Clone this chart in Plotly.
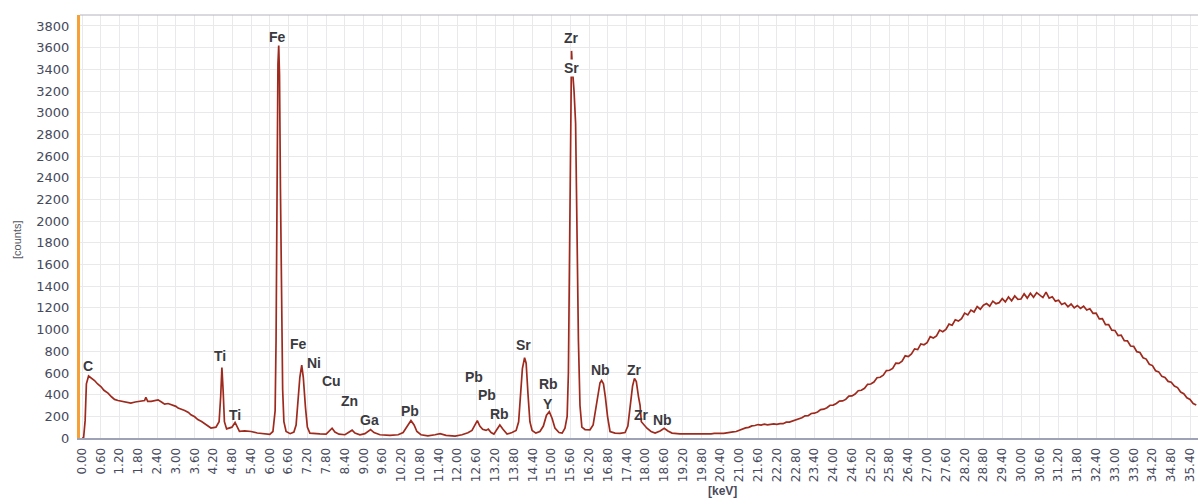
import numpy as np
import plotly.graph_objects as go

# ---- spectrum data (keV, counts) ----
low_kev = [0.00, 0.05, 0.10, 0.14, 0.21, 0.30, 0.40, 0.50, 0.61, 0.70, 0.83, 0.95, 1.04, 1.15, 1.25, 1.40,
           1.56, 1.70, 1.88, 2.00, 2.04, 2.10, 2.21, 2.35, 2.43, 2.55, 2.64, 2.75, 2.84, 3.00, 3.07, 3.18,
           3.28, 3.40, 3.48, 3.60, 3.70, 3.82, 3.92, 4.05, 4.12, 4.28, 4.38, 4.43, 4.47, 4.51, 4.55, 4.62,
           4.79, 4.89, 4.98, 5.03, 5.20, 5.40, 5.60, 5.84, 6.00, 6.10, 6.17, 6.20, 6.23, 6.26, 6.285, 6.31,
           6.34, 6.37, 6.41, 6.45, 6.52, 6.65, 6.77, 6.84, 6.90, 6.96, 7.02, 7.07, 7.14, 7.20, 7.28, 7.44,
           7.60, 7.80, 7.89, 7.99, 8.08, 8.21, 8.40, 8.53, 8.63, 8.72, 8.88, 9.04, 9.14, 9.22, 9.33, 9.52,
           9.84, 10.10, 10.26, 10.35, 10.45, 10.51, 10.61, 10.70, 10.83, 11.05, 11.28, 11.44, 11.63, 11.92,
           12.14, 12.33, 12.46, 12.56, 12.63, 12.71, 12.80, 12.91, 12.98, 13.07, 13.16, 13.26, 13.35, 13.45,
           13.58, 13.74, 13.87, 13.95, 14.01, 14.07, 14.14, 14.19, 14.25, 14.31, 14.38, 14.50, 14.63, 14.74,
           14.84, 14.93, 15.02, 15.11, 15.24, 15.34, 15.43, 15.50, 15.54, 15.58, 15.61, 15.64, 15.67, 15.72,
           15.77, 15.81, 15.86, 15.91, 15.97, 16.07, 16.23, 16.33, 16.41, 16.49, 16.55, 16.60, 16.66, 16.72,
           16.79, 16.87, 17.03, 17.19, 17.35, 17.44, 17.52, 17.59, 17.65, 17.71, 17.78, 17.83, 17.87, 17.96,
           18.05, 18.18, 18.31, 18.47, 18.60, 18.72, 18.85, 19.10, 19.42, 19.70]
low_counts = [0, 0, 160, 500, 572, 552, 530, 498, 472, 440, 414, 378, 356, 346, 340, 336,
              322, 332, 344, 346, 376, 338, 338, 346, 352, 330, 312, 318, 308, 292, 276, 268,
              254, 236, 214, 196, 170, 152, 132, 110, 92, 100, 150, 380, 650, 430, 150, 84,
              100, 143, 90, 62, 66, 60, 46, 36, 34, 60, 250, 900, 2400, 3450, 3620, 3350,
              2300, 1200, 450, 150, 60, 40, 55, 120, 330, 560, 672, 560, 280, 100, 45, 40,
              38, 36, 60, 90, 55, 35, 30, 50, 72, 45, 30, 40, 60, 78, 50, 30,
              25, 30, 50, 90, 140, 162, 120, 60, 30, 20, 30, 40, 25, 18,
              30, 48, 70, 130, 160, 110, 80, 70, 82, 50, 36, 80, 120, 80,
              36, 50, 70, 150, 400, 640, 740, 690, 400, 150, 70, 45, 60, 110,
              210, 242, 180, 92, 50, 45, 90, 200, 600, 1800, 3000, 3570, 3400, 3200,
              2900, 2000, 900, 300, 100, 78, 76, 120, 250, 420, 510, 532, 500, 380,
              200, 60, 45, 42, 50, 110, 300, 480, 550, 520, 380, 300, 150, 122,
              90, 60, 45, 65, 90, 65, 45, 38, 36, 37]

# Bremsstrahlung hump, one reading every 0.1 keV starting at 19.8 keV
hump_start_kev = 19.8
hump_step_kev = 0.1
hump_counts = [36, 39, 37, 38, 42, 40, 43, 42, 47, 49,
               57, 60, 72, 78, 93, 98, 112, 115, 124, 119,
               128, 122, 125, 131, 126, 133, 132, 146, 147, 156,
               172, 175, 186, 204, 205, 226, 229, 240, 262, 266,
               279, 302, 304, 318, 340, 342, 356, 386, 388, 405,
               436, 440, 458, 495, 498, 516, 556, 560, 579, 622,
               625, 642, 690, 688, 708, 758, 750, 776, 822, 815,
               868, 860, 880, 935, 922, 942, 995, 980, 1002, 1050,
               1040, 1090, 1078, 1100, 1152, 1135, 1180, 1162, 1212, 1188,
               1225, 1240, 1215, 1262, 1238, 1248, 1285, 1255, 1300, 1265,
               1310, 1278, 1282, 1330, 1290, 1335, 1298, 1340, 1318, 1295,
               1345, 1290, 1302, 1262, 1270, 1232, 1245, 1210, 1235, 1200,
               1222, 1195, 1215, 1180, 1192, 1150, 1152, 1098, 1100, 1045,
               1046, 995, 992, 945, 948, 898, 896, 848, 845, 796,
               788, 740, 728, 680, 668, 620, 610, 568, 558, 522,
               514, 480, 465, 424, 408, 370, 356, 318, 305]

# Peak labels (element, keV, counts)
peak_names = ["C", "Ti", "Ti", "Fe", "Fe", "Ni", "Cu", "Zn", "Ga", "Pb", "Pb", "Pb", "Rb", "Sr",
              "Rb", "Y", "Zr", "Sr", "Nb", "Zr", "Zr", "Nb"]
peak_kev = [0.19, 4.41, 4.89, 6.26, 6.92, 7.40, 7.96, 8.56, 9.17, 10.49, 12.52, 12.94, 13.35, 14.09,
            14.89, 14.89, 15.65, 15.65, 16.57, 17.64, 17.86, 18.56]
peak_counts = [664, 756, 212, 3699, 867, 696, 522, 341, 166, 249, 563, 392, 221, 858,
               498, 318, 3690, 3413, 627, 627, 212, 166]

x_ticks = [round(0.6 * i, 2) for i in range(60)]
x_tick_text = [f"{v:.2f}" for v in x_ticks]
y_ticks = list(range(0, 3801, 200))

# ---- build ----
hump_kev = [round(hump_start_kev + hump_step_kev * i, 2) for i in range(len(hump_counts))]
kev = low_kev + hump_kev
counts = low_counts + hump_counts

fig = go.Figure()
fig.add_trace(go.Scatter(x=kev, y=counts, mode="lines",
                         line=dict(color="#9e2a1e", width=1.7), hoverinfo="skip"))

for name, xk, yc in zip(peak_names, peak_kev, peak_counts):
    is_sr_cover = (name == "Sr" and yc > 3000)
    fig.add_annotation(x=xk, y=yc, text=f"<b>{name}</b>", showarrow=False,
                       font=dict(family="Liberation Sans, Arial", size=14, color="#3a3a3e"),
                       xanchor="center", yanchor="middle",
                       bgcolor="white" if is_sr_cover else "rgba(0,0,0,0)", borderpad=0)

tick_font = "DejaVu Sans"
fig.update_layout(
    width=1198, height=500,
    margin=dict(l=80, r=0, t=15, b=62),
    paper_bgcolor="white", plot_bgcolor="white",
    showlegend=False,
    font=dict(family="Liberation Sans, Arial", color="#4a4a5c"),
    xaxis=dict(range=[-0.064, 35.655], tickmode="array", tickvals=x_ticks, ticktext=x_tick_text,
               tickangle=-90, tickfont=dict(family=tick_font, size=12, color="#474a5c"),
               showgrid=True, gridcolor="#e9e9ec", gridwidth=1, zeroline=False,
               showline=True, linecolor="#9ea2b6", linewidth=2, automargin=False,
               ticks="outside", ticklen=3, tickcolor="rgba(0,0,0,0)"),
    yaxis=dict(range=[0, 3901], tickmode="array", tickvals=y_ticks,
               tickfont=dict(family=tick_font, size=13, color="#474a5c"),
               showgrid=True, gridcolor="#e9e9ec", gridwidth=1, zeroline=False,
               showline=True, linecolor="#f7a035", linewidth=3, automargin=False,
               ticks="outside", ticklen=5, tickcolor="rgba(0,0,0,0)"),
)

# top border
fig.add_shape(type="line", xref="paper", yref="paper", x0=0, x1=1, y0=1, y1=1,
              line=dict(color="#b4b4bc", width=1))

fig.add_annotation(xref="paper", yref="paper", x=(17 - 80) / 1118, y=(438 - 240) / 423,
                   text="[counts]", textangle=-90, showarrow=False,
                   font=dict(size=11, color="#55555f"), xanchor="center", yanchor="middle")
fig.add_annotation(xref="paper", yref="paper", x=(722 - 80) / 1118, y=-(491 - 438) / 423,
                   text="<b>[keV]</b>", showarrow=False,
                   font=dict(size=12, color="#4a4a5c"), xanchor="center", yanchor="middle")

fig.write_html("out.html", config={"displayModeBar": False},
               post_script="document.body.style.margin='0';document.body.style.overflow='hidden';")
